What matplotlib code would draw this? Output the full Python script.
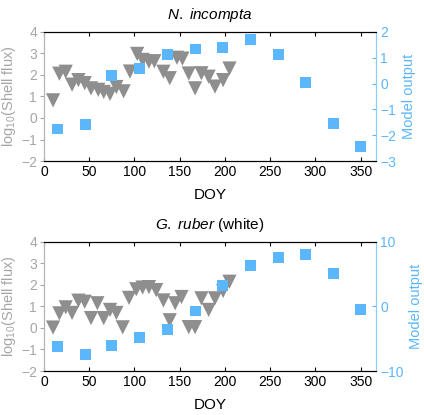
import matplotlib
matplotlib.use("Agg")
import matplotlib.pyplot as plt

plt.rcParams['font.family'] = ['Liberation Sans', 'DejaVu Sans']
plt.rcParams['mathtext.fontset'] = 'custom'
plt.rcParams['mathtext.rm'] = 'Liberation Sans'
plt.rcParams['mathtext.it'] = 'Liberation Sans:italic'

# ---- data ----
model_doy = [15, 46, 75, 106, 136, 167, 197, 228, 259, 289, 320, 350]

inc_doy = [10, 17, 24, 31, 38, 45, 52, 60, 66, 73, 80, 88, 95, 103, 109, 116, 122,
           132, 139, 147, 153, 160, 167, 174, 182, 189, 198, 205]
inc_flux = [0.82, 2.06, 2.15, 1.55, 1.76, 1.62, 1.38, 1.31, 1.21, 1.12, 1.44, 1.24, 2.16, 2.98,
            2.70, 2.62, 2.64, 2.15, 1.85, 2.80, 2.76, 2.07, 1.38, 2.08, 1.92, 1.46, 1.76, 2.30]
inc_model = [-1.76, -1.57, 0.33, 0.59, 1.11, 1.34, 1.41, 1.69, 1.11, 0.06, -1.54, -2.44]

rub_doy = [10, 17, 24, 31, 38, 45, 52, 59, 66, 73, 80, 87, 94, 102, 109, 116, 124,
           132, 139, 145, 152, 160, 167, 174, 182, 189, 198, 205]
rub_flux = [0.02, 0.68, 0.96, 0.70, 1.27, 1.22, 0.46, 1.15, 0.46, 0.84, 0.70, 0.03, 1.40, 1.80,
            1.88, 1.90, 1.76, 1.28, 0.36, 1.15, 1.44, 0.04, 0.04, 1.38, 0.84, 1.38, 1.72, 2.15]
rub_model = [-6.2, -7.5, -6.0, -4.8, -3.5, -0.7, 3.3, 6.3, 7.6, 8.0, 5.1, -0.4]

x_ticks = [0, 50, 100, 150, 200, 250, 300, 350]
left_ticks = [-2, -1, 0, 1, 2, 3, 4]

GRAY = '#8e8e8e'
GRAY_TXT = '#a6a6a6'
BLUE = '#5cb6fb'
BLUE_AX = '#8ccdf8'

fig = plt.figure(figsize=(4.24, 4.15), dpi=100)

def panel(rect, doy, flux, model, rlim, rticks, title):
    ax = fig.add_axes(rect)
    ax2 = ax.twinx()
    ax.scatter(doy, flux, marker='v', s=105, color=GRAY, edgecolors='none', zorder=3)
    ax2.scatter(model_doy, model, marker='s', s=62, color=BLUE, edgecolors='none', zorder=3)
    ax.set_xlim(0, 367)
    ax.set_ylim(-2, 4)
    ax2.set_ylim(*rlim)
    ax.set_xticks(x_ticks)
    ax.set_yticks(left_ticks)
    ax2.set_yticks(rticks)
    ax.tick_params(axis='x', direction='in', top=True, labelsize=10, colors='black', length=3, pad=3)
    ax.tick_params(axis='y', direction='out', labelsize=10, colors=GRAY_TXT, length=3, pad=2)
    ax2.tick_params(axis='y', direction='in', labelsize=10, colors=BLUE, length=3, pad=3)
    for a in (ax, ax2):
        a.spines['top'].set_color('black')
        a.spines['bottom'].set_color('black')
        a.spines['left'].set_color('#b5b5b5')
        a.spines['right'].set_color(BLUE_AX)
        for s in a.spines.values():
            s.set_linewidth(0.8)
    ax.set_xlabel('DOY', fontsize=11, labelpad=6)
    ax.set_ylabel('log$_{10}$(Shell flux)', fontsize=10.5, color=GRAY_TXT, labelpad=2)
    ax2.set_ylabel('Model output', fontsize=10.5, color=BLUE, labelpad=4)
    ax.set_title(title, fontsize=11, pad=9)
    return ax, ax2

panel([0.1038, 0.612, 0.783, 0.311], inc_doy, inc_flux, inc_model, (-3, 2),
      [-3, -2, -1, 0, 1, 2], '$\\mathit{N.\\ incompta}$')
panel([0.1038, 0.106, 0.783, 0.311], rub_doy, rub_flux, rub_model, (-10, 10),
      [-10, 0, 10], '$\\mathit{G.\\ ruber}$ (white)')

fig.savefig('out.png', dpi=100)
